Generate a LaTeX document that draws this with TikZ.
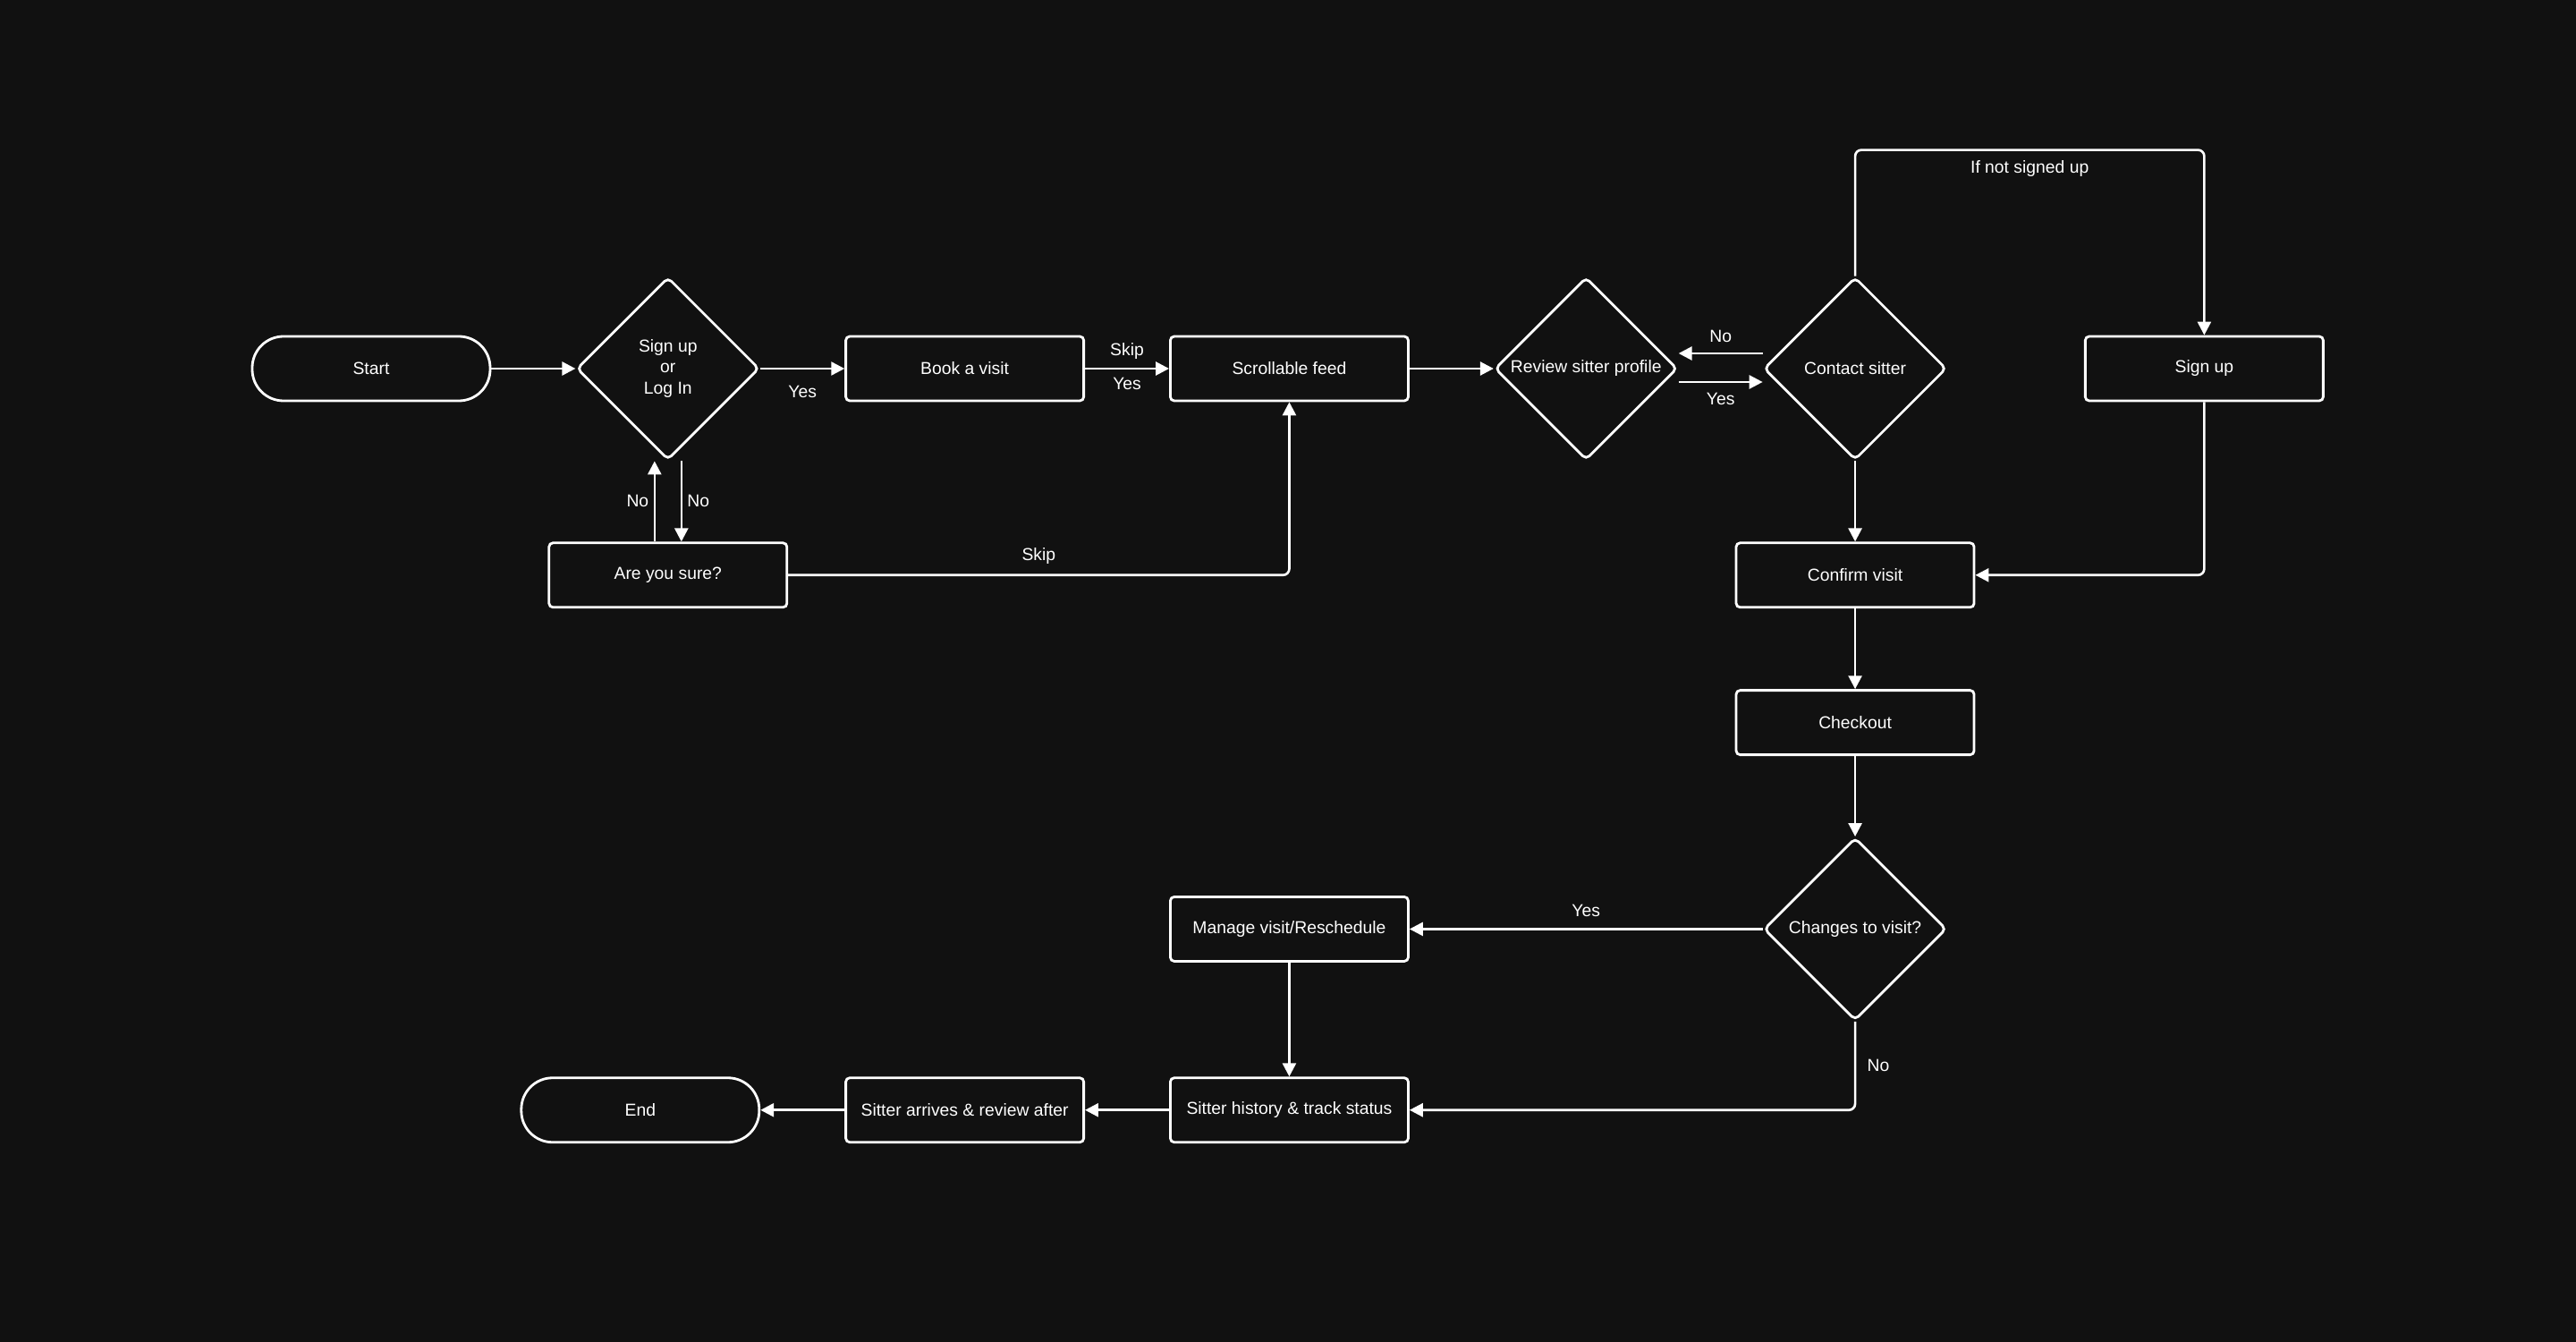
\documentclass[tikz,border=0pt]{standalone}
\usepackage{fontspec}
\setmainfont{Liberation Sans}
\usetikzlibrary{shapes.geometric,arrows.meta,positioning}
\definecolor{bgdark}{HTML}{111111}

\begin{document}
\begin{tikzpicture}[
                  every node/.style={text=white,font=\fontsize{11}{13.5}\selectfont,align=center},
                  node distance=1.8cm and 1.88cm,
                  box/.style={rectangle,draw=white,line width=1.6pt,rounded corners=2.5pt,minimum width=5.32cm,minimum height=1.44cm,inner sep=0pt},
                  term/.style={box,rounded corners=0.7cm},
                  decision/.style={diamond,draw=white,line width=1.6pt,rounded corners=3pt,minimum width=4.08cm,minimum height=4.08cm,inner sep=0pt},
                  arr/.style={draw=white,line width=1.5pt,rounded corners=4pt,-{Triangle[length=8.5pt,width=8.5pt]}},
                  lbl/.style={draw=none,inner sep=3pt},
            ]
            \fill[bgdark] (0,0) rectangle (57.6,-30);

            \node[term] (start) at (8.3,-8.24) {Start};
            \node[decision] (login) [right=of start] {Sign up\\or\\Log In};
            \node[box] (book) [right=of login] {Book a visit};
            \node[box] (feed) [right=of book] {Scrollable feed};
            \node[decision] (review) [right=of feed] {Review sitter profile};
            \node[decision] (contact) [right=of review] {Contact sitter};
            \node[box] (signup) [right=3.05cm of contact] {Sign up};

            \node[box] (sure) [below=of login] {Are you sure?};
            \node[box] (confirm) [below=of contact] {Confirm visit};
            \node[box] (checkout) [below=of confirm] {Checkout};
            \node[decision] (changes) [below=of checkout] {Changes to visit?};

            \node[box] (manage) at (feed |- changes) {Manage visit/Reschedule};
            \node[box] (history) [below=2.55cm of manage] {Sitter history \& track status};
            \node[box] (arrives) [left=of history] {Sitter arrives \& review after};
            \node[term] (end) [left=of arrives] {End};

            \draw[arr] (start) -- (login);
            \draw[arr] (login) -- node[lbl,below=7pt] {Yes} (book);
            \draw[arr] (book) -- node[lbl,above=2pt] {Skip} node[lbl,below=2pt] {Yes} (feed);
            \draw[arr] (feed) -- (review);
            \draw[arr] ([yshift=0.34cm]contact.west) -- node[lbl,above=3pt] {No} ([yshift=0.34cm]review.east);
            \draw[arr] ([yshift=-0.3cm]review.east) -- node[lbl,below=3pt] {Yes} ([yshift=-0.3cm]contact.west);

            \draw[arr] ([xshift=-0.3cm]sure.north) -- node[lbl,left] {No} ([xshift=-0.3cm]login.south);
            \draw[arr] ([xshift=0.3cm]login.south) -- node[lbl,right] {No} ([xshift=0.3cm]sure.north);
            \draw[arr] (sure.east) -| node[lbl,pos=0.25,above=3pt] {Skip} (feed.south);

            \draw[arr] (contact.north) -- ++(0,2.82) -| node[lbl,pos=0.25,below=3pt] {If not signed up} (signup.north);
            \draw[arr] (signup.south) |- (confirm.east);
            \draw[arr] (contact) -- (confirm);
            \draw[arr] (confirm) -- (checkout);
            \draw[arr] (checkout) -- (changes);

            \draw[arr] (changes) -- node[lbl,above=4pt] {Yes} (manage);
            \draw[arr] (changes.south) |- node[lbl,pos=0.25,right=4pt] {No} (history.east);
            \draw[arr] (manage) -- (history);
            \draw[arr] (history) -- (arrives);
            \draw[arr] (arrives) -- (end);
      \end{tikzpicture}
\end{document}
